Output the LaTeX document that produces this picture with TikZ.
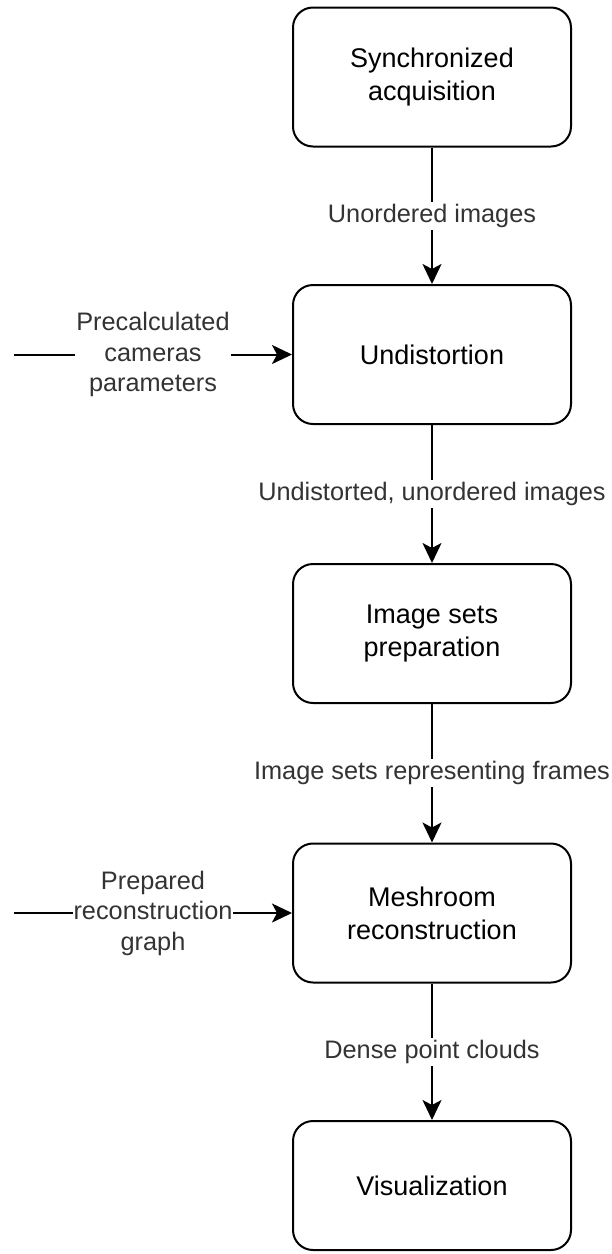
\documentclass[tikz,border=0pt]{standalone}
\usepackage{fontspec}
\setmainfont{Liberation Sans}
\usetikzlibrary{arrows.meta}
\begin{document}
\begin{tikzpicture}[x=1pt,y=-1pt,
  box/.style={draw=black, line width=2pt, rounded corners=20pt, minimum width=278pt, minimum height=139pt, align=center, font=\fontsize{27}{33}\selectfont, inner sep=0pt},
  conn/.style={line width=2pt, -{Stealth[length=20pt,width=19pt,inset=5pt]}},
  lbl/.style={fill=white, inner xsep=1pt, inner ysep=2pt, align=center, text=black!80, font=\fontsize{25.3}{30.5}\selectfont}]
\useasboundingbox (0,0) rectangle (612,1254);
\node[box] (b1) at (432,77) {Synchronized\\acquisition};
\node[box] (b2) at (432,354.5) {Undistortion};
\node[box] (b3) at (432,633.5) {Image sets\\preparation};
\node[box] (b4) at (432,913) {Meshroom\\reconstruction};
\node[box, minimum height=129pt] (b5) at (432,1185.5) {Visualization};
\coordinate (i1) at (14,354.5);
\coordinate (i2) at (14,913);
\draw[conn] (b1) -- node[lbl]{Unordered images} (b2);
\draw[conn] (b2) -- node[lbl]{Undistorted, unordered images} (b3);
\draw[conn] (b3) -- node[lbl]{Image sets representing frames} (b4);
\draw[conn] (b4) -- node[lbl]{Dense point clouds} (b5);
\draw[conn] (i1) -- node[lbl]{Precalculated\\cameras\\parameters} (b2.west);
\draw[conn] (i2) -- node[lbl]{Prepared\\reconstruction\\graph} (b4.west);
\end{tikzpicture}
\end{document}
